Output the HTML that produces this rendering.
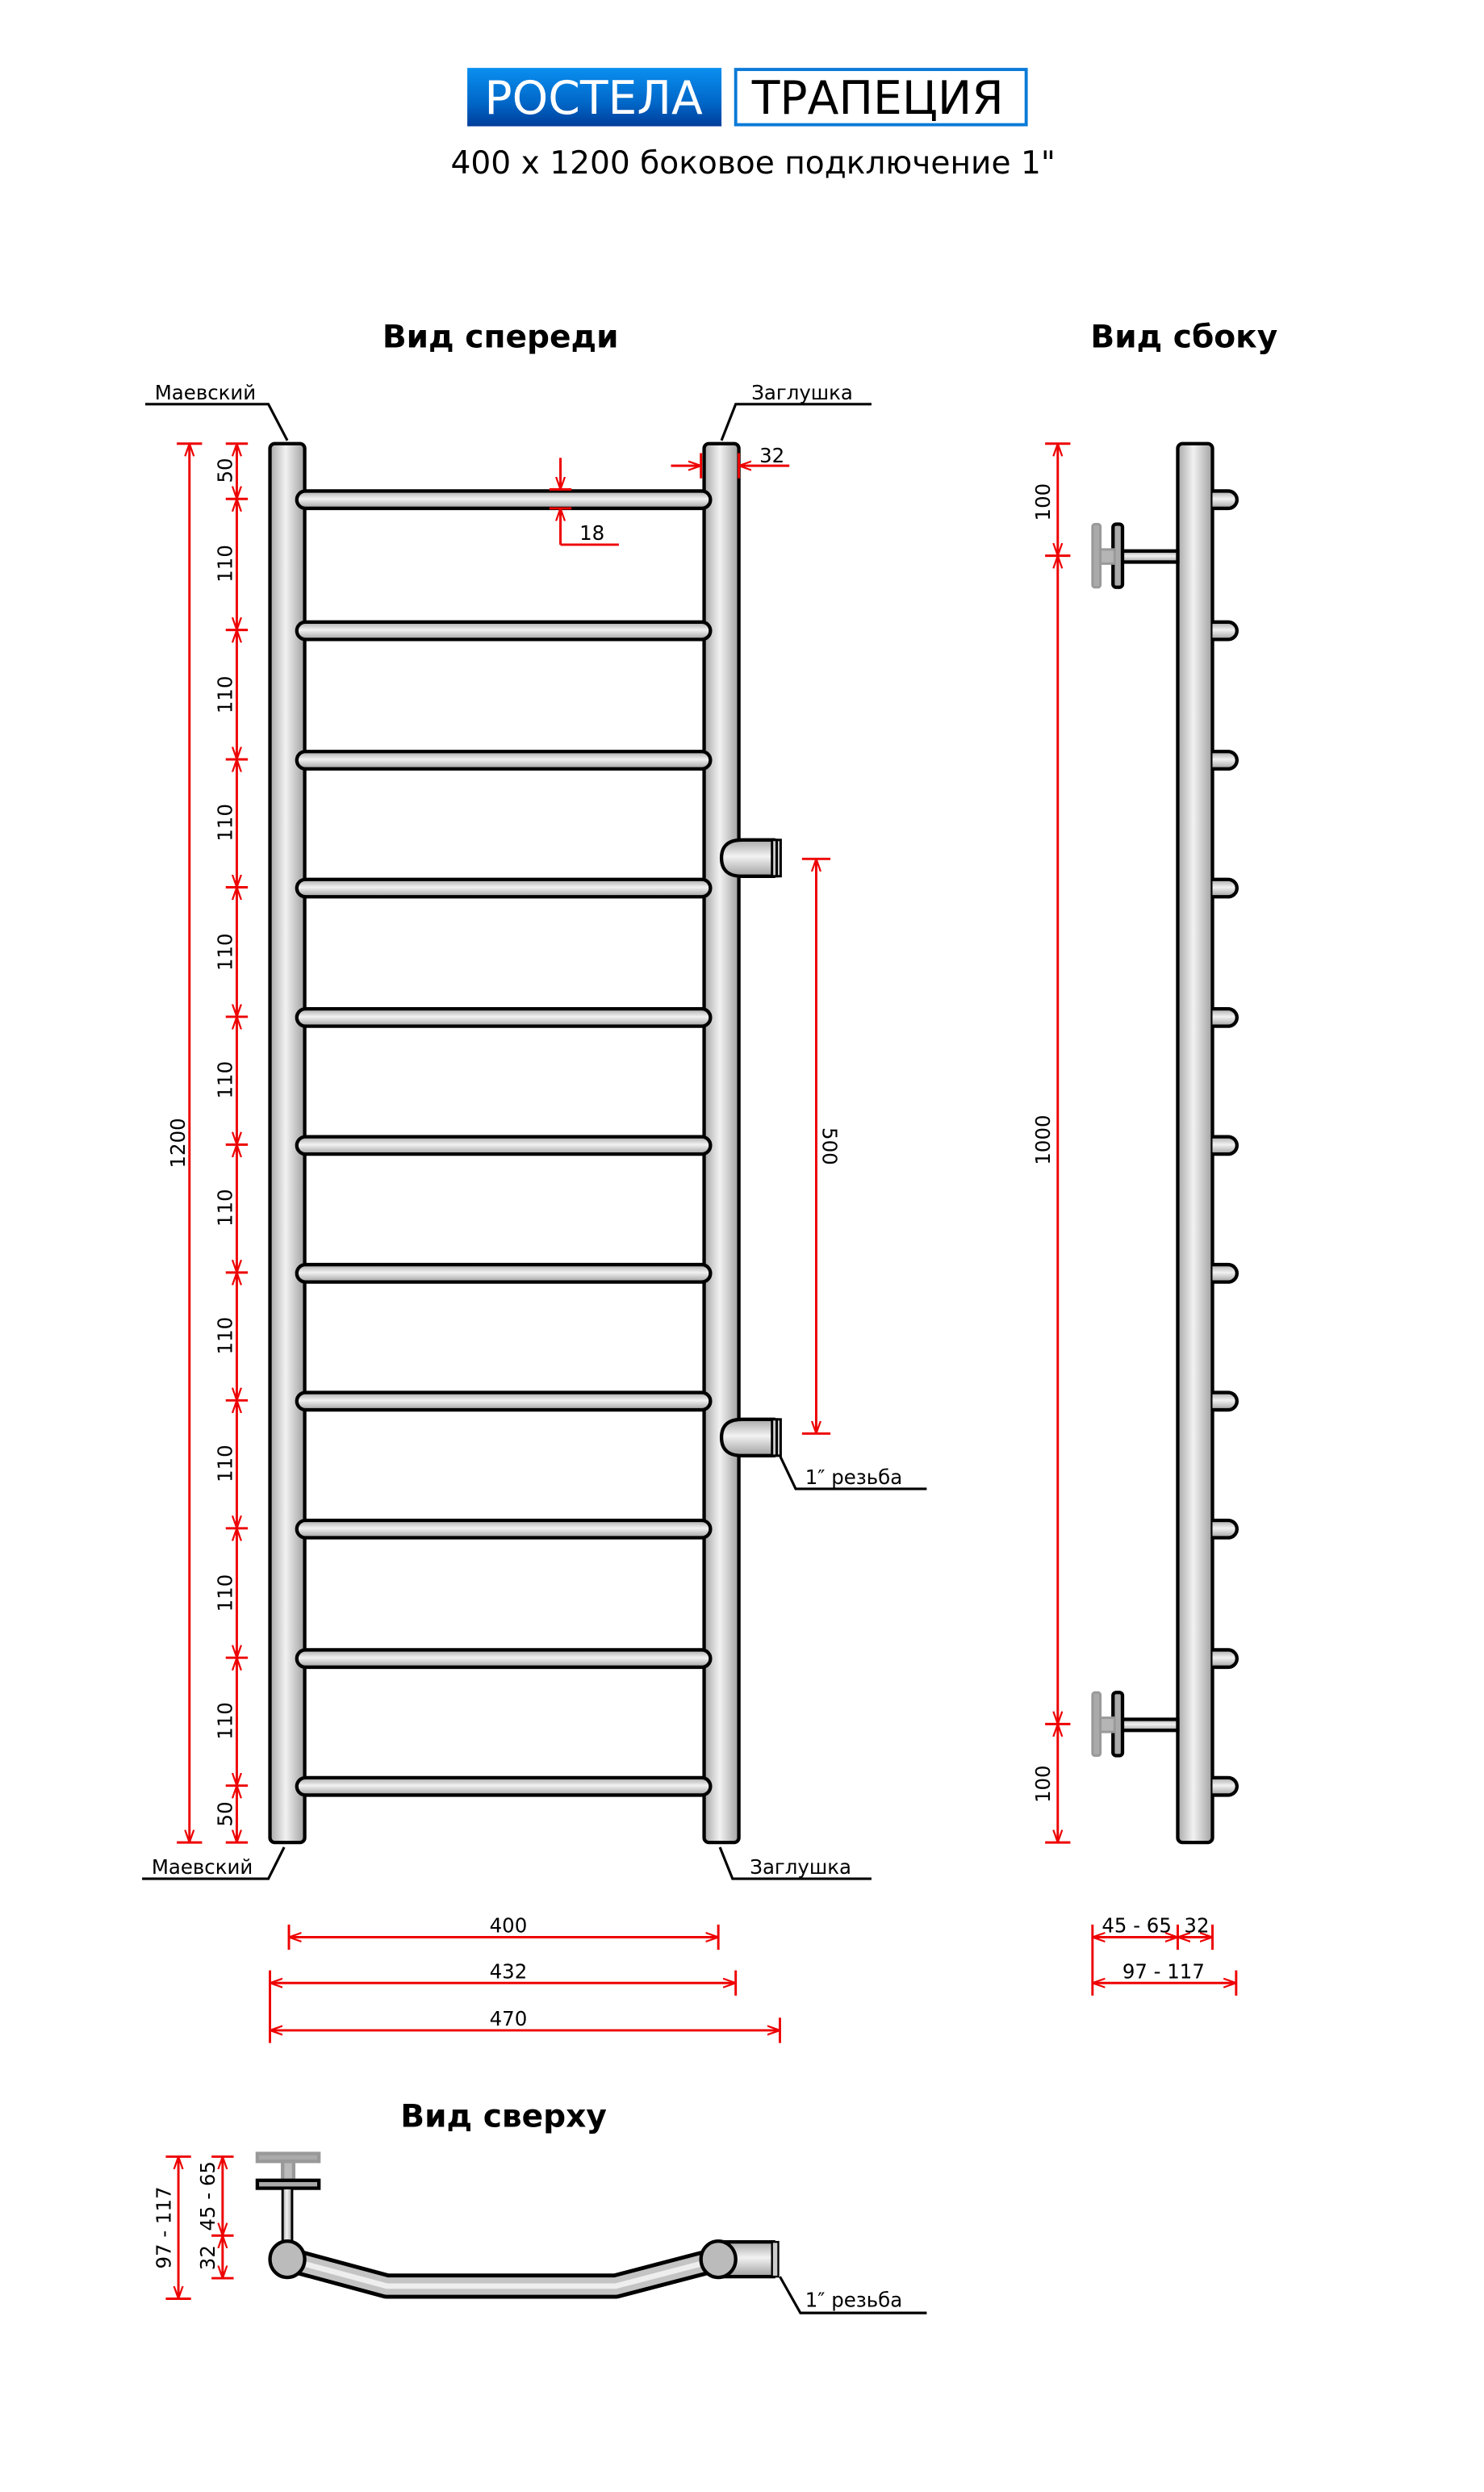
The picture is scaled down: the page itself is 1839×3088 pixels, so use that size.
<!DOCTYPE html>
<html><head><meta charset="utf-8"><style>
html,body{margin:0;padding:0;background:#fff}
svg{display:block}
text{font-family:"DejaVu Sans","Liberation Sans",sans-serif}
</style></head><body>
<svg width="1839" height="3088" viewBox="0 0 1839 3088" xmlns="http://www.w3.org/2000/svg">
<defs>
<linearGradient id="gv" x1="0" y1="0" x2="1" y2="0"><stop offset="0" stop-color="#a8a8a8"/><stop offset="0.45" stop-color="#f2f2f2"/><stop offset="1" stop-color="#a0a0a0"/></linearGradient>
<linearGradient id="gh" x1="0" y1="0" x2="0" y2="1"><stop offset="0" stop-color="#a8a8a8"/><stop offset="0.45" stop-color="#f2f2f2"/><stop offset="1" stop-color="#a0a0a0"/></linearGradient>
<linearGradient id="blue" x1="0" y1="0" x2="0" y2="1"><stop offset="0" stop-color="#0a8ff0"/><stop offset="0.6" stop-color="#0067c8"/><stop offset="1" stop-color="#003d9a"/></linearGradient>
<marker id="ar" viewBox="0 0 10 10" refX="10" refY="5" markerWidth="8" markerHeight="8" orient="auto-start-reverse" markerUnits="userSpaceOnUse"><path d="M0,1.5 L10,5 L0,8.5" fill="none" stroke="#e00" stroke-width="1.4"/></marker>
</defs>
<g transform="scale(1.9564)">
<!-- header -->
<rect x="296" y="43" width="161" height="37" fill="url(#blue)"/>
<text x="376" y="72" font-size="29" fill="#fff" text-anchor="middle" font-family="Liberation Sans">РОСТЕЛА</text>
<rect x="466" y="44" width="184" height="35" fill="#fff" stroke="#0a7ad8" stroke-width="2"/>
<text x="556" y="72" font-size="29" fill="#000" text-anchor="middle" font-family="Liberation Sans">ТРАПЕЦИЯ</text>
<text x="477" y="110" font-size="20" text-anchor="middle" font-family="Liberation Sans">400 x 1200 боковое подключение 1"</text>
<text x="317" y="220" font-size="20" font-weight="bold" text-anchor="middle">Вид спереди</text>
<text x="750" y="220" font-size="20" font-weight="bold" text-anchor="middle">Вид сбоку</text>
<text x="319" y="1347" font-size="20" font-weight="bold" text-anchor="middle">Вид сверху</text>

<g stroke="#000" stroke-width="2.2">
<g fill="url(#gv)">
<rect x="171" y="281" width="22" height="886" rx="3"/>
<rect x="446" y="281" width="22" height="886" rx="3"/>
<rect x="746" y="281" width="22" height="886" rx="3"/>
</g>
<!-- rails -->
<g fill="url(#gh)">
<rect x="188" y="311" width="262" height="11" rx="5.5"/>
<rect x="188" y="394" width="262" height="11" rx="5.5"/>
<rect x="188" y="476" width="262" height="11" rx="5.5"/>
<rect x="188" y="557" width="262" height="11" rx="5.5"/>
<rect x="188" y="639" width="262" height="11" rx="5.5"/>
<rect x="188" y="720" width="262" height="11" rx="5.5"/>
<rect x="188" y="801" width="262" height="11" rx="5.5"/>
<rect x="188" y="882" width="262" height="11" rx="5.5"/>
<rect x="188" y="963" width="262" height="11" rx="5.5"/>
<rect x="188" y="1045" width="262" height="11" rx="5.5"/>
<rect x="188" y="1126" width="262" height="11" rx="5.5"/>
<!-- outlets -->
<path d="M470,532 L490,532 L490,555 L470,555 Q457,555 457,543.5 Q457,532 470,532Z"/>
<path d="M470,899 L490,899 L490,922 L470,922 Q457,922 457,910.5 Q457,899 470,899Z"/>
</g>
<g fill="#ccc" stroke-width="1.5">
<rect x="489" y="532" width="3" height="23"/><rect x="492" y="532" width="2.5" height="23"/>
<rect x="489" y="899" width="3" height="23"/><rect x="492" y="899" width="2.5" height="23"/>
</g>
<!-- side stubs -->
<g fill="url(#gh)">
<path d="M768,311h10a5.5,5.5 0 0 1 0,11h-10"/>
<path d="M768,394h10a5.5,5.5 0 0 1 0,11h-10"/>
<path d="M768,476h10a5.5,5.5 0 0 1 0,11h-10"/>
<path d="M768,557h10a5.5,5.5 0 0 1 0,11h-10"/>
<path d="M768,639h10a5.5,5.5 0 0 1 0,11h-10"/>
<path d="M768,720h10a5.5,5.5 0 0 1 0,11h-10"/>
<path d="M768,801h10a5.5,5.5 0 0 1 0,11h-10"/>
<path d="M768,882h10a5.5,5.5 0 0 1 0,11h-10"/>
<path d="M768,963h10a5.5,5.5 0 0 1 0,11h-10"/>
<path d="M768,1045h10a5.5,5.5 0 0 1 0,11h-10"/>
<path d="M768,1126h10a5.5,5.5 0 0 1 0,11h-10"/>
<rect x="710" y="349" width="36" height="7"/>
<rect x="710" y="1089" width="36" height="7"/>
</g>
<g fill="#aaa">
<rect x="705" y="332" width="6" height="40" rx="2"/>
<rect x="705" y="1072" width="6" height="40" rx="2"/>
</g>
</g>
<g fill="#aaa" stroke="#999" stroke-width="1.5">
<rect x="692" y="332" width="5" height="40" rx="1.5"/><rect x="697" y="348" width="9" height="9" fill="#b5b5b5"/>
<rect x="692" y="1072" width="5" height="40" rx="1.5"/><rect x="697" y="1088" width="9" height="9" fill="#b5b5b5"/>
</g>

<!-- top view -->
<g stroke="#000" stroke-width="2.2">
<rect x="163" y="1364" width="39" height="5" fill="#aaa" stroke="#999"/>
<rect x="179" y="1369" width="7" height="12" fill="#bbb" stroke="#999"/>
<rect x="163" y="1381" width="39" height="5" fill="#aaa"/>
<rect x="179" y="1386" width="6" height="34" fill="url(#gv)" stroke-width="1.5"/>
<path d="M182,1431 L245,1448 L390,1448 L455,1431" fill="none" stroke="#000" stroke-width="16" stroke-linejoin="round"/>
<path d="M182,1431 L245,1448 L390,1448 L455,1431" fill="none" stroke="#c4c4c4" stroke-width="11" stroke-linejoin="round"/>
<path d="M182,1431 L245,1448 L390,1448 L455,1431" fill="none" stroke="#eee" stroke-width="3.5" stroke-linejoin="round"/>
<ellipse cx="182" cy="1431" rx="11" ry="11.5" fill="#bbb"/>
<rect x="455" y="1420" width="35" height="22" fill="url(#gh)"/>
<rect x="489" y="1420" width="4" height="22" fill="#ccc" stroke-width="1.2"/>
<ellipse cx="455" cy="1431" rx="11" ry="11.5" fill="#bbb"/>
</g>

<!-- leaders -->
<g stroke="#000" stroke-width="1.6" fill="none">
<polyline points="92,256 170,256 182,279"/>
<polyline points="552,256 466,256 457,279"/>
<polyline points="90,1190 170,1190 180,1170"/>
<polyline points="552,1190 464,1190 456,1170"/>
<polyline points="587,943 504,943 494,922"/>
<polyline points="587,1465 507,1465 494,1442"/>
</g>
<g font-size="12.5" fill="#000">
<text x="98" y="253">Маевский</text>
<text x="476" y="253">Заглушка</text>
<text x="96" y="1187">Маевский</text>
<text x="475" y="1187">Заглушка</text>
<text x="510" y="940">1″ резьба</text>
<text x="510" y="1461">1″ резьба</text>
</g>

<!-- red dims -->
<g stroke="#e00" stroke-width="1.5" fill="none">
<path d="M112,281H128M112,1167H128"/>
<line x1="120" y1="281" x2="120" y2="1167" marker-start="url(#ar)" marker-end="url(#ar)"/>
<path d="M143,281H157M143,316H157M143,399H157M143,481H157M143,562H157M143,644H157M143,725H157M143,806H157M143,887H157M143,968H157M143,1050H157M143,1131H157M143,1167H157"/>
<g marker-start="url(#ar)" marker-end="url(#ar)">
<line x1="150" y1="281" x2="150" y2="316"/><line x1="150" y1="316" x2="150" y2="399"/><line x1="150" y1="399" x2="150" y2="481"/><line x1="150" y1="481" x2="150" y2="562"/><line x1="150" y1="562" x2="150" y2="644"/><line x1="150" y1="644" x2="150" y2="725"/><line x1="150" y1="725" x2="150" y2="806"/><line x1="150" y1="806" x2="150" y2="887"/><line x1="150" y1="887" x2="150" y2="968"/><line x1="150" y1="968" x2="150" y2="1050"/><line x1="150" y1="1050" x2="150" y2="1131"/><line x1="150" y1="1131" x2="150" y2="1167"/>
<line x1="517" y1="544" x2="517" y2="908"/>
<line x1="670" y1="281" x2="670" y2="352"/><line x1="670" y1="352" x2="670" y2="1092"/><line x1="670" y1="1092" x2="670" y2="1167"/>
<line x1="183" y1="1227" x2="455" y2="1227"/><line x1="171" y1="1256" x2="466" y2="1256"/><line x1="171" y1="1286" x2="494" y2="1286"/>
<line x1="692" y1="1227" x2="746" y2="1227"/><line x1="746" y1="1227" x2="768" y2="1227"/><line x1="692" y1="1256" x2="783" y2="1256"/>
<line x1="113" y1="1366" x2="113" y2="1456"/><line x1="141" y1="1366" x2="141" y2="1416"/><line x1="141" y1="1416" x2="141" y2="1443"/>
</g>
<path d="M508,544H526M508,908H526M662,281H678M662,352H678M662,1092H678M662,1167H678"/>
<path d="M183,1219V1235M455,1219V1235M171,1248V1294M466,1248V1264M494,1278V1294M692,1219V1264M746,1219V1235M768,1219V1235M783,1248V1264"/>
<path d="M105,1366H121M105,1456H121M134,1366H148M134,1416H148M134,1443H148"/>
<line x1="425" y1="295" x2="444" y2="295" marker-end="url(#ar)"/><line x1="500" y1="295" x2="468" y2="295" marker-end="url(#ar)"/>
<path d="M444,287V303M468,287V303"/>
<line x1="355" y1="290" x2="355" y2="310" marker-end="url(#ar)"/><line x1="355" y1="345" x2="355" y2="322" marker-end="url(#ar)"/>
<path d="M348,310H362M348,322H362M355,345H392"/>
</g>
<g font-size="12.5" fill="#000" text-anchor="middle">
<text x="489" y="293">32</text>
<text x="375" y="342">18</text>
<text x="322" y="1224">400</text>
<text x="322" y="1253">432</text>
<text x="322" y="1283">470</text>
<text x="720" y="1224">45 - 65</text>
<text x="758" y="1224">32</text>
<text x="737" y="1253">97 - 117</text>
<g transform="translate(147,298) rotate(-90)"><text>50</text></g>
<g transform="translate(147,1149) rotate(-90)"><text>50</text></g>
<g transform="translate(147,357) rotate(-90)"><text>110</text></g>
<g transform="translate(147,440) rotate(-90)"><text>110</text></g>
<g transform="translate(147,521) rotate(-90)"><text>110</text></g>
<g transform="translate(147,603) rotate(-90)"><text>110</text></g>
<g transform="translate(147,684) rotate(-90)"><text>110</text></g>
<g transform="translate(147,765) rotate(-90)"><text>110</text></g>
<g transform="translate(147,846) rotate(-90)"><text>110</text></g>
<g transform="translate(147,927) rotate(-90)"><text>110</text></g>
<g transform="translate(147,1009) rotate(-90)"><text>110</text></g>
<g transform="translate(147,1090) rotate(-90)"><text>110</text></g>
<g transform="translate(117,724) rotate(-90)"><text>1200</text></g>
<g transform="translate(521,726) rotate(90)"><text>500</text></g>
<g transform="translate(665,318) rotate(-90)"><text>100</text></g>
<g transform="translate(665,722) rotate(-90)"><text>1000</text></g>
<g transform="translate(665,1130) rotate(-90)"><text>100</text></g>
<g transform="translate(108,1411) rotate(-90)"><text>97 - 117</text></g>
<g transform="translate(136,1391) rotate(-90)"><text>45 - 65</text></g>
<g transform="translate(136,1430) rotate(-90)"><text>32</text></g>
</g>
</g>
</svg>
</body></html>
